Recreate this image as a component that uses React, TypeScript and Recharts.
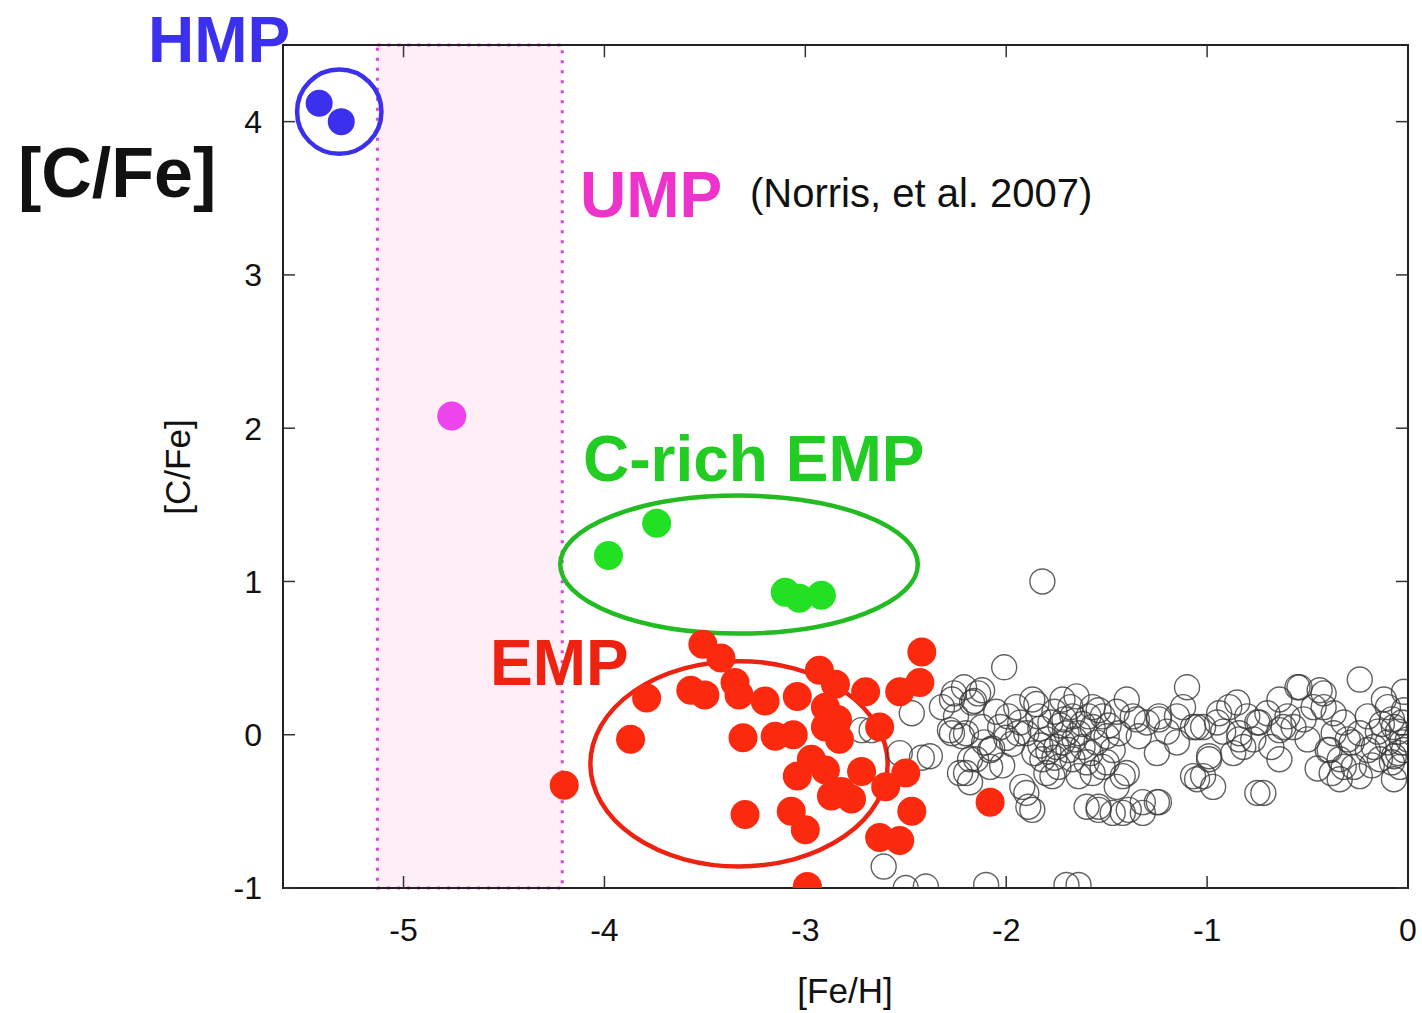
import React from 'react';
import { ScatterChart, Scatter, XAxis, YAxis, ReferenceArea, ReferenceLine } from 'recharts';

const xTicks = [-5, -4, -3, -2, -1, 0];
const yTicks = [-1, 0, 1, 2, 3, 4];

// [Fe/H], [C/Fe]
const hmpStars = [[-5.42, 4.12], [-5.31, 4.0]];
const umpStars = [[-4.76, 2.08]];
const cRichStars = [[-3.98, 1.17], [-3.74, 1.38], [-3.1, 0.93], [-3.03, 0.89], [-2.92, 0.91]];
const empStars = [
  [-3.51, 0.59], [-3.42, 0.5], [-3.79, 0.24], [-3.57, 0.29], [-3.5, 0.26], [-3.35, 0.34],
  [-3.33, 0.26], [-3.2, 0.22], [-3.04, 0.25], [-2.93, 0.42], [-2.85, 0.33], [-2.9, 0.18],
  [-2.7, 0.28], [-2.42, 0.54], [-2.43, 0.34], [-2.53, 0.28], [-2.63, 0.05], [-3.87, -0.03],
  [-3.31, -0.02], [-3.15, -0.01], [-3.06, 0.0], [-2.83, -0.03], [-2.84, 0.1], [-2.97, -0.16],
  [-3.04, -0.27], [-2.9, -0.23], [-2.72, -0.24], [-2.82, -0.37], [-2.77, -0.42], [-2.5, -0.25],
  [-2.6, -0.34], [-4.2, -0.33], [-3.3, -0.52], [-3.07, -0.5], [-3.0, -0.62], [-2.47, -0.5],
  [-2.63, -0.67], [-2.53, -0.69], [-2.99, -0.99], [-2.08, -0.44], [-2.87, -0.4], [-2.9, 0.05],
];
const fieldStars = [
  [-1.82, 1.0], [-2.01, 0.44], [-2.47, 0.14], [-2.42, -0.15], [-2.53, -0.12], [-2.67, 0.03],
  [-2.72, 0.03], [-2.61, -0.86], [-2.5, -1.0], [-2.4, -0.99], [-2.1, -0.98], [-1.7, -0.98],
  [-1.64, -0.98], [-2.27, 0.23], [-2.17, 0.21], [-2.16, 0.22], [-2.21, 0.31], [-2.14, 0.27],
  [-2.27, 0.01], [-2.2, 0.01], [-2.08, -0.1], [-2.07, -0.09], [-2.18, -0.16], [-2.23, -0.25],
  [-2.18, -0.31], [-1.99, 0.12], [-1.94, 0.01], [-2.03, 0.05], [-1.87, 0.23], [-1.84, 0.12],
  [-1.9, 0.01], [-1.8, -0.03], [-1.82, -0.16], [-1.75, -0.08], [-1.72, 0.23], [-1.65, 0.25],
  [-1.67, 0.12], [-1.7, 0.01], [-1.64, 0.01], [-1.57, 0.18], [-1.57, 0.05], [-1.52, 0.12],
  [-1.5, -0.01], [-1.62, -0.08], [-1.67, -0.16], [-1.74, -0.21], [-1.8, -0.25], [-1.9, -0.38],
  [-1.87, -0.49], [-1.77, -0.27], [-1.64, -0.27], [-1.57, -0.25], [-1.5, -0.18], [-1.4, 0.23],
  [-1.37, 0.12], [-1.34, -0.01], [-1.44, 0.01], [-1.47, -0.1], [-1.4, -0.25], [-1.45, -0.34],
  [-1.6, -0.47], [-1.54, -0.49], [-1.47, -0.51], [-1.39, -0.49], [-1.32, -0.44], [-1.24, -0.44],
  [-1.25, -0.12], [-1.24, 0.12], [-1.15, 0.12], [-1.1, 0.31], [-1.07, 0.05], [-0.99, -0.16],
  [-1.05, -0.29], [-0.97, -0.34], [-1.07, -0.27], [-1.02, -0.27], [-0.87, -0.12], [-0.94, 0.14],
  [-0.85, 0.21], [-0.84, 0.01], [-0.77, -0.03], [-0.82, -0.08], [-0.72, -0.38], [-0.7, 0.14],
  [-0.64, 0.23], [-0.64, 0.03], [-0.57, 0.05], [-0.54, 0.31], [-0.5, -0.03], [-0.44, 0.29],
  [-0.42, 0.18], [-0.37, 0.14], [-0.34, -0.16], [-0.27, -0.21], [-0.24, 0.36], [-0.24, 0.01],
  [-0.17, -0.08], [-0.12, 0.23], [-0.07, 0.05], [-0.05, -0.12], [-0.04, -0.21], [-0.02, 0.16],
  [-0.14, -0.16], [-0.3, -0.03], [-0.37, 0.01], [-2.26, 0.27], [-2.12, 0.29], [-2.28, 0.03],
  [-2.22, -0.01], [-2.2, -0.25], [-2.15, -0.16], [-2.08, -0.21], [-1.92, -0.34], [-1.89, -0.47],
  [-2.38, -0.14], [-0.64, -0.16], [-0.39, -0.1], [-0.32, -0.21], [-0.34, -0.29], [-0.24, -0.27],
  [-0.07, -0.29], [-0.07, -0.14], [0.0, -0.03], [-0.74, 0.08], [-0.62, 0.05], [-0.55, 0.31],
  [-0.42, 0.27], [-1.35, 0.1], [-1.24, 0.1], [-1.05, 0.05], [-0.99, -0.14], [-0.89, 0.18],
  [-0.84, -0.03], [-0.75, -0.38], [-1.54, 0.16], [-1.52, -0.21], [-1.42, -0.27], [-1.54, -0.47],
  [-1.42, -0.51], [-1.25, -0.44], [-1.32, -0.51], [-1.78, 0.08], [-1.72, -0.05], [-1.68, 0.18],
  [-1.62, 0.07], [-1.85, 0.2], [-1.95, 0.18], [-2.05, 0.15], [-2.12, 0.05], [-1.55, -0.05],
  [-1.45, 0.15], [-1.3, 0.08], [-1.2, 0.02], [-1.12, 0.18], [-1.02, 0.05], [-0.92, 0.02],
  [-0.8, 0.12], [-0.75, 0.08], [-0.6, 0.12], [-0.52, 0.1], [-0.47, 0.18], [-0.32, 0.08],
  [-0.28, -0.05], [-0.2, 0.12], [-0.15, 0.02], [-0.1, -0.05], [-0.08, 0.1], [-0.05, 0.02],
  [-0.03, -0.05], [-0.1, 0.18], [-0.02, 0.28], [-0.18, -0.2], [-0.4, -0.1], [-0.45, -0.22],
  [-0.38, -0.25], [-0.08, -0.18], [-0.02, -0.1], [-1.97, -0.06], [-1.83, 0.04], [-1.76, 0.15],
  [-1.69, -0.1], [-1.6, -0.18], [-1.86, -0.12], [-2.0, -0.02], [-1.93, 0.08], [-1.59, 0.12],
  [-1.49, 0.06], [-2.25, 0.12], [-2.32, 0.18], [-2.02, -0.2], [-1.73, 0.06], [-1.79, -0.11],
  [-1.76, -0.15], [-1.66, -0.03], [-1.83, -0.07], [-1.71, 0.1], [-1.58, -0.12], [-2.11, -0.05],
  [-1.15, -0.05], [-0.95, 0.08], [-0.68, -0.08], [-0.13, 0.07], [-0.03, 0.08], [-0.2, -0.1],
];

// annotation regions: [x1, x2, y1, y2]
const umpBand = [-5.13, -4.21, -1, 4.5];
const hmpRing = [-5.53, -5.11, 3.79, 4.34];
const cRichRing = [-4.22, -2.44, 0.66, 1.56];
const empRing = [-4.07, -2.59, -0.86, 0.48];
const frame = [-5.6, 0, -1, 4.5];
const topTickLen = 0.08;

const toPts = (arr: number[][]) => arr.map(([x, y]) => ({ x, y }));

const FONT = '"Liberation Sans", Arial, Helvetica, sans-serif';

const dot = (fill: string, r = 14.5) => (p: any) =>
  <circle cx={p.cx} cy={p.cy} r={r} fill={fill} />;

const ring = (p: any) => (
  <circle cx={p.cx} cy={p.cy} r={12.5} fill="none" stroke="#3a3a3a" strokeOpacity={0.8} strokeWidth={1.4} />
);

const ellipse = (color: string) => (p: any) => (
  <ellipse
    cx={p.x + p.width / 2}
    cy={p.y + p.height / 2}
    rx={p.width / 2}
    ry={p.height / 2}
    fill="none"
    stroke={color}
    strokeWidth={4.5}
  />
);

const Annotations = () => (
  <svg
    width={1422}
    height={1013}
    style={{ position: 'absolute', left: 0, top: 0, pointerEvents: 'none' }}
    fontFamily={FONT}
  >
    <text x={148} y={62} fontSize={64} fontWeight="bold" fill="#3b30ee">HMP</text>
    <text x={18} y={197} fontSize={70} fontWeight="bold" fill="#111">[C/Fe]</text>
    <text x={580} y={217} fontSize={64} fontWeight="bold" fill="#ee33cc">UMP</text>
    <text x={750} y={207} fontSize={40} fill="#111">(Norris, et al. 2007)</text>
    <text x={583} y={481} fontSize={64} fontWeight="bold" fill="#22cc22">C-rich EMP</text>
    <text x={490} y={685} fontSize={64} fontWeight="bold" fill="#ee2211">EMP</text>
    <text x={845} y={1003} fontSize={35} fill="#111" textAnchor="middle">[Fe/H]</text>
    <text x={190} y={467} fontSize={35} fill="#111" textAnchor="middle" transform="rotate(-90 190 467)">[C/Fe]</text>
  </svg>
);

const axisLine = { stroke: '#222', strokeWidth: 2 };
const tickLine = { stroke: '#333', strokeWidth: 1.5 };
const tickStyle = { fill: '#111', fontSize: 32, fontFamily: FONT };
const noLabel = () => <g />;

export default function App() {
  return (
    <div style={{ position: 'absolute', left: 0, top: 0, width: 1422, height: 1013, background: '#fff' }}>
      <ScatterChart width={1422} height={1013} margin={{ top: 45, right: 13, left: 0, bottom: 0 }}>
        <XAxis
          type="number"
          dataKey="x"
          domain={[-5.6, 0]}
          ticks={xTicks}
          interval={0}
          allowDataOverflow
          height={125}
          tickSize={-12}
          tickMargin={42}
          axisLine={axisLine}
          tickLine={tickLine}
          tick={tickStyle}
        />
        <YAxis
          type="number"
          dataKey="y"
          domain={[-1, 4.5]}
          ticks={yTicks}
          interval={0}
          allowDataOverflow
          width={283}
          tickSize={-12}
          tickMargin={33}
          axisLine={axisLine}
          tickLine={tickLine}
          tick={tickStyle}
        />
        <YAxis
          yAxisId="right"
          orientation="right"
          type="number"
          domain={[-1, 4.5]}
          ticks={yTicks}
          interval={0}
          allowDataOverflow
          width={1}
          tickSize={-12}
          axisLine={axisLine}
          tickLine={tickLine}
          tick={noLabel}
        />
        <ReferenceArea
          x1={umpBand[0]}
          x2={umpBand[1]}
          y1={umpBand[2]}
          y2={umpBand[3]}
          fill="#fdeff5"
          fillOpacity={1}
          stroke="#dd44dd"
          strokeWidth={3}
          strokeDasharray="3 7"
        />
        <ReferenceArea
          x1={frame[0]}
          x2={frame[1]}
          y1={frame[2]}
          y2={frame[3]}
          fill="none"
          stroke="#222"
          strokeWidth={2}
        />
        {xTicks.map((t) => (
          <ReferenceLine
            key={t}
            segment={[{ x: t, y: frame[3] }, { x: t, y: frame[3] - topTickLen }]}
            stroke="#333"
            strokeWidth={1.5}
          />
        ))}
        <Scatter data={toPts(fieldStars)} shape={ring} isAnimationActive={false} />
        <Scatter data={toPts(empStars)} shape={dot('#fb2a0e')} isAnimationActive={false} />
        <Scatter data={toPts(cRichStars)} shape={dot('#22e022')} isAnimationActive={false} />
        <Scatter data={toPts(umpStars)} shape={dot('#ee44ee')} isAnimationActive={false} />
        <Scatter data={toPts(hmpStars)} shape={dot('#3b30ee', 13.5)} isAnimationActive={false} />
        <ReferenceArea x1={hmpRing[0]} x2={hmpRing[1]} y1={hmpRing[2]} y2={hmpRing[3]} shape={ellipse('#3b30ee')} />
        <ReferenceArea x1={cRichRing[0]} x2={cRichRing[1]} y1={cRichRing[2]} y2={cRichRing[3]} shape={ellipse('#22bb22')} />
        <ReferenceArea x1={empRing[0]} x2={empRing[1]} y1={empRing[2]} y2={empRing[3]} shape={ellipse('#ee2211')} />
      </ScatterChart>
      <Annotations />
    </div>
  );
}
